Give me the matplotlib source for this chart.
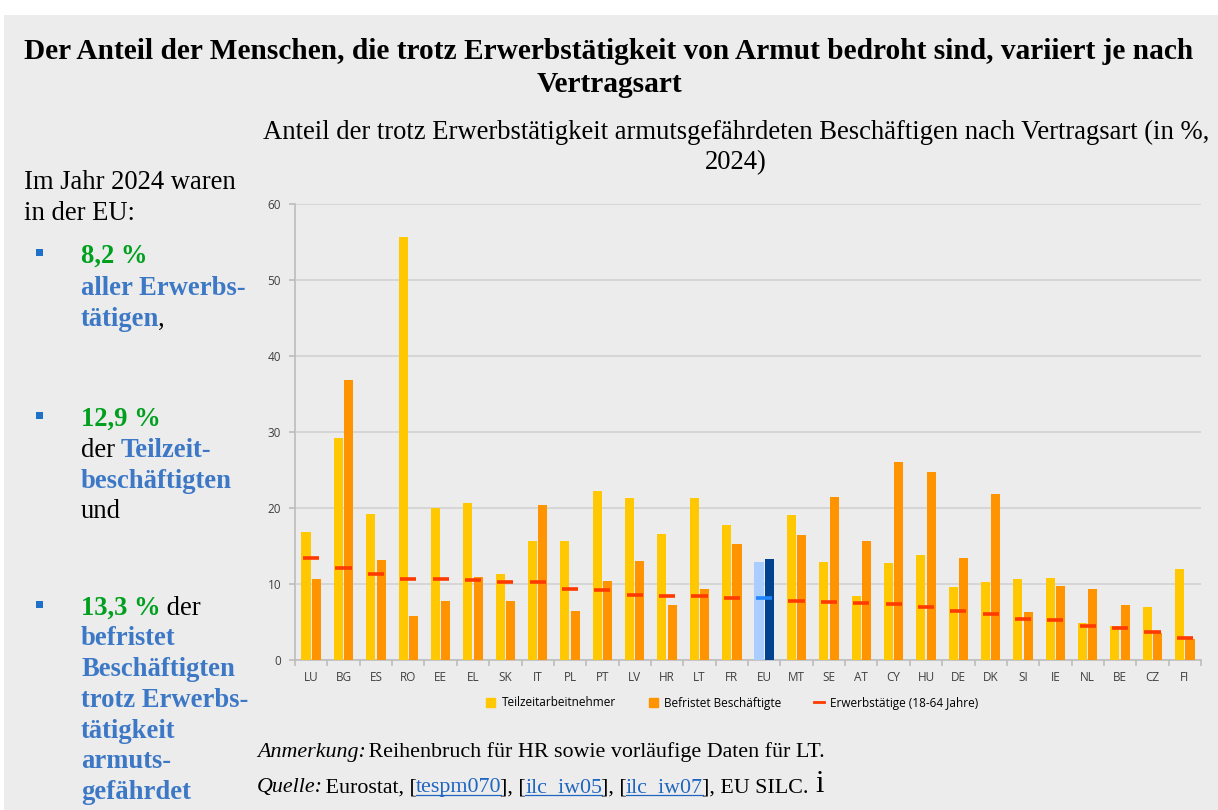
import numpy as np
import matplotlib
matplotlib.use("Agg")
import matplotlib.pyplot as plt
from matplotlib.patches import Patch, Rectangle
from matplotlib.lines import Line2D

# Daten (in %, 2024)
countries = ["LU", "BG", "ES", "RO", "EE", "EL", "SK", "IT", "PL", "PT", "LV", "HR", "LT", "FR",
             "EU", "MT", "SE", "AT", "CY", "HU", "DE", "DK", "SI", "IE", "NL", "BE", "CZ", "FI"]
teilzeit = [16.8, 29.2, 19.2, 55.7, 20.0, 20.6, 11.3, 15.7, 15.6, 22.3, 21.3, 16.6, 21.3, 17.8,
            12.9, 19.1, 12.9, 8.4, 12.8, 13.8, 9.6, 10.3, 10.6, 10.8, 4.9, 4.5, 7.0, 12.0]
befristet = [10.7, 36.9, 13.2, 5.8, 7.8, 10.9, 7.8, 20.4, 6.4, 10.4, 13.0, 7.2, 9.4, 15.3,
             13.3, 16.4, 21.4, 15.7, 26.0, 24.8, 13.4, 21.8, 6.3, 9.7, 9.4, 7.3, 3.5, 2.7]
erwerbstaetige = [13.4, 12.1, 11.3, 10.7, 10.6, 10.5, 10.3, 10.3, 9.3, 9.2, 8.5, 8.4, 8.4, 8.2,
                  8.2, 7.8, 7.6, 7.5, 7.4, 7.0, 6.5, 6.1, 5.4, 5.3, 4.5, 4.2, 3.7, 2.9]
legend_labels = ["Teilzeitarbeitnehmer", "Befristet Beschäftigte", "Erwerbstätige (18-64 Jahre)"]

W, H = 1218, 810
YELLOW, ORANGE, RED = "#ffc800", "#ff9300", "#ff3a00"
EU_LIGHT, EU_DARK, EU_LINE = "#a9cdff", "#00428f", "#1e86ff"
BG = "#ececec"
BLUE_TXT, GREEN_TXT = "#3c78c6", "#00a01e"
SERIF = "Liberation Serif"
SANS = "Open Sans"

fig = plt.figure(figsize=(W / 100, H / 100), dpi=100, facecolor="white")
fig.patches.append(Rectangle((4 / W, 0), 1, 1 - 15 / H, transform=fig.transFigure,
                             facecolor=BG, edgecolor="none", zorder=-10))


def fx(x):
    return x / W


def fy(y):
    return 1 - y / H


renderer = fig.canvas.get_renderer()


def text_line(x, y, parts, size):
    """Schreibt mehrere Textstücke hintereinander auf eine Zeile (Pixelkoordinaten)."""
    for txt, color, weight, style, link in parts:
        t = fig.text(fx(x), fy(y), txt, color=color, fontsize=size, fontweight=weight,
                     fontstyle=style, family=SERIF, va="baseline", ha="left")
        bb = t.get_window_extent(renderer)
        if link:
            fig.add_artist(Line2D([bb.x0 / W, bb.x1 / W], [fy(y + 3)] * 2,
                                  color=color, lw=0.9, transform=fig.transFigure))
        x = bb.x1 - (3 if style == "italic" else 1)
    return x


# Titel und Untertitel
TS = 21.2
fig.text(0.5, fy(59), "Der Anteil der Menschen, die trotz Erwerbstätigkeit von Armut bedroht sind, variiert je nach",
         ha="center", va="baseline", fontsize=TS, fontweight="bold", family=SERIF)
fig.text(0.5, fy(92), "Vertragsart", ha="center", va="baseline", fontsize=TS, fontweight="bold", family=SERIF)
ST = 19.2
fig.text(fx(736), fy(139), "Anteil der trotz Erwerbstätigkeit armutsgefährdeten Beschäftigen nach Vertragsart (in %,",
         ha="center", va="baseline", fontsize=ST, family=SERIF)
fig.text(fx(736), fy(169), "2024)", ha="center", va="baseline", fontsize=ST, family=SERIF)

# linker Textblock
LS = 19.2
K = "#000000"
text_line(24, 189, [("Im Jahr 2024 waren", K, "normal", "normal", False)], LS)
text_line(24, 220, [("in der EU:", K, "normal", "normal", False)], LS)

left_lines = [
    (263, [("8,2 %", GREEN_TXT, "bold", "normal", False)], True),
    (295, [("aller Erwerbs-", BLUE_TXT, "bold", "normal", False)], False),
    (326, [("tätigen", BLUE_TXT, "bold", "normal", False), (",", K, "normal", "normal", False)], False),
    (426, [("12,9 %", GREEN_TXT, "bold", "normal", False)], True),
    (457, [("der ", K, "normal", "normal", False), ("Teilzeit-", BLUE_TXT, "bold", "normal", False)], False),
    (488, [("beschäftigten", BLUE_TXT, "bold", "normal", False)], False),
    (518, [("und", K, "normal", "normal", False)], False),
    (615, [("13,3 %", GREEN_TXT, "bold", "normal", False), (" der", K, "normal", "normal", False)], True),
    (645, [("befristet", BLUE_TXT, "bold", "normal", False)], False),
    (676, [("Beschäftigten", BLUE_TXT, "bold", "normal", False)], False),
    (707, [("trotz Erwerbs-", BLUE_TXT, "bold", "normal", False)], False),
    (738, [("tätigkeit", BLUE_TXT, "bold", "normal", False)], False),
    (768, [("armuts-", BLUE_TXT, "bold", "normal", False)], False),
    (799, [("gefährdet", BLUE_TXT, "bold", "normal", False)], False),
]
for y, parts, bullet in left_lines:
    if bullet:
        fig.patches.append(Rectangle((fx(36), fy(y - 7)), 7 / W, 7 / H, transform=fig.transFigure,
                                     facecolor="#1f70c8", edgecolor="none"))
    text_line(81, y, parts, LS)

# Fußnote
FS = 15.8
LINK = "#1f66c2"
text_line(257, 757, [("Anmerkung:", K, "normal", "italic", False),
                     (" Reihenbruch für HR sowie vorläufige Daten für LT.", K, "normal", "normal", False)], FS)
xe = text_line(257, 792, [("Quelle:", K, "normal", "italic", False),
                          (" Eurostat, [", K, "normal", "normal", False),
                          ("tespm070", LINK, "normal", "normal", True),
                          ("], [", K, "normal", "normal", False),
                          ("ilc_iw05", LINK, "normal", "normal", True),
                          ("], [", K, "normal", "normal", False),
                          ("ilc_iw07", LINK, "normal", "normal", True),
                          ("], EU SILC.", K, "normal", "normal", False)], FS)
fig.text(fx(xe + 8), fy(792), "i", fontsize=22, family=SERIF, va="baseline")

# Diagramm
ax = fig.add_axes([fx(295), fy(660), fx(1201) - fx(295), fy(204) - fy(660)])
ax.set_facecolor(BG)
x = np.arange(len(countries))
bw = 0.28
c_teil = [EU_LIGHT if c == "EU" else YELLOW for c in countries]
c_bef = [EU_DARK if c == "EU" else ORANGE for c in countries]
ax.bar(x - 0.16, teilzeit, bw, color=c_teil, zorder=3)
ax.bar(x + 0.16, befristet, bw, color=c_bef, zorder=3)
c_line = [EU_LINE if c == "EU" else RED for c in countries]
ax.hlines(erwerbstaetige, x - 0.25, x + 0.25, colors=c_line, lw=2.6, zorder=4)

ax.set_xlim(-0.5, len(countries) - 0.5)
ax.set_ylim(0, 60)
ax.set_yticks(np.arange(0, 61, 10))
ax.grid(axis="y", color="#d2d2d2", lw=1.2, zorder=0)
ax.set_axisbelow(True)
for s in ["top", "right"]:
    ax.spines[s].set_visible(False)
for s in ["left", "bottom"]:
    ax.spines[s].set_color("#bdbdbd")
    ax.spines[s].set_linewidth(1.2)
ax.set_xticks(x)
ax.set_xticklabels(countries, fontsize=8.5, color="#404040", family=SANS)
ax.set_xticks(np.arange(-0.5, len(countries), 1), minor=True)
ax.tick_params(axis="x", which="major", length=0, pad=8)
ax.tick_params(axis="x", which="minor", length=4, color="#bdbdbd", width=1.2)
ax.tick_params(axis="y", length=4, color="#bdbdbd", width=1.2, labelsize=8.5, labelcolor="#404040", pad=6)
for lab in ax.get_yticklabels():
    lab.set_family(SANS)

handles = [Patch(color=YELLOW), Patch(color=ORANGE), Line2D([0], [0], color=RED, lw=2)]
fig.legend(handles, legend_labels, loc="center", bbox_to_anchor=(fx(732), fy(703)), ncol=3,
           frameon=False, prop={"family": SANS, "size": 8.5}, handlelength=0.8, handleheight=0.8,
           columnspacing=2.8, handletextpad=0.5)

fig.savefig("out.png", dpi=100, facecolor=fig.get_facecolor())
